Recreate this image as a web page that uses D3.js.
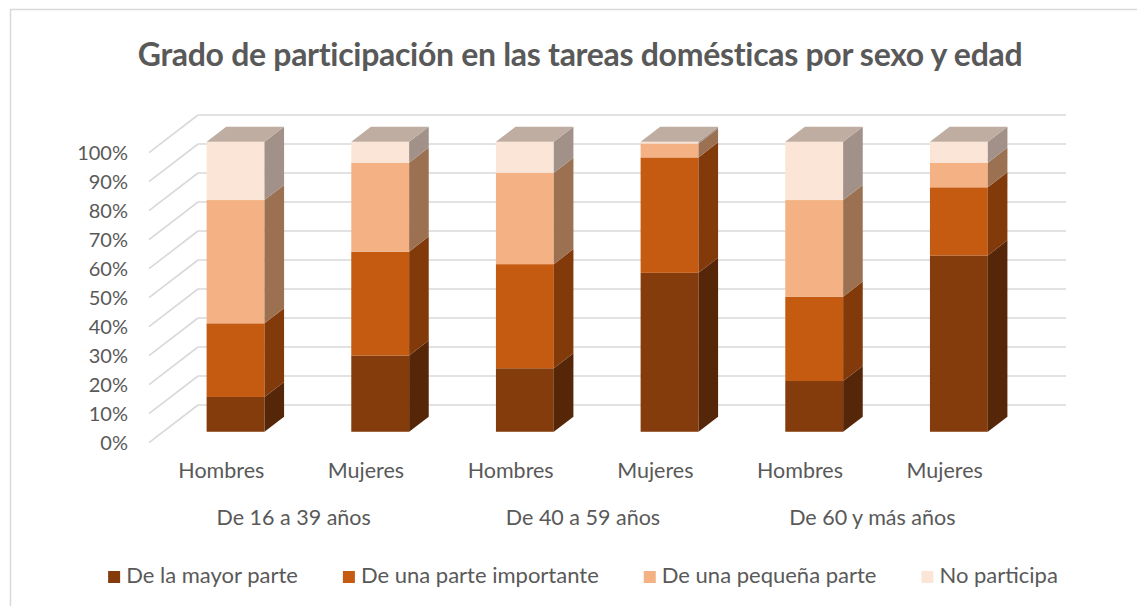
<!DOCTYPE html>
<html>
<head>
<meta charset="utf-8">
<script src="https://cdn.jsdelivr.net/npm/d3@7"></script>
<style>
  html, body { margin: 0; padding: 0; background: #fff; }
  svg { display: block; font-family: Lato, "Open Sans", sans-serif; }
</style>
</head>
<body>
<svg id="chart" width="1137" height="606"></svg>
<script>
// Participation in household chores, by sex and age group (percent of each group)
const groups = ["De 16 a 39 años", "De 40 a 59 años", "De 60 y más años"];
const sexes = ["Hombres", "Mujeres"];
const series = ["De la mayor parte", "De una parte importante", "De una pequeña parte", "No participa"];
const mayorParte     = [12.0, 26.3, 21.9, 54.8, 17.5, 60.8];
const parteImportante = [25.4, 35.8, 35.9, 39.8, 29.1, 23.5];
const pequenaParte   = [42.5, 30.7, 31.5, 4.8, 33.3, 8.5];
const noParticipa    = [20.1, 7.2, 10.7, 0.6, 20.1, 7.2];
const yTicks = [0, 10, 20, 30, 40, 50, 60, 70, 80, 90, 100];

const frontColors = ["#843C0C", "#C55A11", "#F4B183", "#FBE5D6"];
const sideColors  = ["#562608", "#823A0A", "#9C7151", "#A19189"];
const topColor = "#BFADA2";

const svg = d3.select("#chart");

// chart frame
svg.append("rect").attr("x", 10.5).attr("y", 9.5).attr("width", 1140).attr("height", 620)
  .attr("fill", "none").attr("stroke", "#d9d9d9").attr("stroke-width", 1.5);

// title
svg.append("text").attr("x", 580).attr("y", 66).attr("text-anchor", "middle")
  .attr("font-size", 32).attr("font-weight", 700).attr("fill", "#595959")
  .attr("letter-spacing", -0.3)
  .text("Grado de participación en las tareas domésticas por sexo y edad");

// categories: one per group/sex pair
const cats = [];
groups.forEach(g => sexes.forEach(s => cats.push({ group: g, sex: s })));
const stacks = cats.map((c, i) => [mayorParte[i], parteImportante[i], pequenaParte[i], noParticipa[i]]);

// front plane of the 3-D box, plus the depth vector towards the back wall
const x = d3.scaleBand().domain(d3.range(cats.length)).range([149, 1017])
  .paddingInner(0.6).paddingOuter(0.3);
const xc = d3.scaleBand().domain(d3.range(cats.length)).range([149, 1017]);
const y = d3.scaleLinear().domain([0, 100]).range([442.7, 152.7]);
const depth = { dx: 49, dy: -37.7 };
const f1 = 0.29, f2 = 0.69; // bar front / back positions inside the depth

const grid = svg.append("g").attr("stroke", "#d9d9d9").attr("stroke-width", 1.6).attr("fill", "none");
yTicks.forEach(v => {
  const y0 = y(v);
  grid.append("line").attr("x1", 149).attr("y1", y0)
    .attr("x2", 149 + depth.dx).attr("y2", y0 + depth.dy);
  grid.append("line").attr("x1", 149 + depth.dx).attr("y1", y0 + depth.dy)
    .attr("x2", 1017 + depth.dx).attr("y2", y0 + depth.dy);
});

// y-axis labels
svg.append("g").selectAll("text").data(yTicks).join("text")
  .attr("x", 128).attr("y", d => y(d) + 2)
  .attr("text-anchor", "end").attr("dominant-baseline", "middle")
  .attr("font-size", 20).attr("fill", "#595959")
  .text(d => d + "%");

// stacked 3-D columns
const bars = svg.append("g");
const pt = (px, py) => px + "," + py;
stacks.forEach((vals, i) => {
  const xl = x(i) + depth.dx * f1;
  const xr = xl + x.bandwidth();
  const oy = depth.dy * f1;
  const bx = depth.dx * (f2 - f1), by = depth.dy * (f2 - f1);
  const g = bars.append("g");
  let acc = 0;
  vals.forEach((v, k) => {
    const yb = y(acc) + oy, yt = y(acc + v) + oy;
    acc += v;
    g.append("rect").attr("x", xl).attr("y", yt).attr("width", xr - xl).attr("height", Math.max(0, yb - yt))
      .attr("fill", frontColors[k]);
    g.append("polygon")
      .attr("points", [pt(xr, yb), pt(xr + bx, yb + by), pt(xr + bx, yt + by), pt(xr, yt)].join(" "))
      .attr("fill", sideColors[k]);
  });
  const ytop = y(acc) + oy;
  g.append("polygon")
    .attr("points", [pt(xl, ytop), pt(xr, ytop), pt(xr + bx, ytop + by), pt(xl + bx, ytop + by)].join(" "))
    .attr("fill", topColor);
});

// category labels (sex, then age group)
svg.append("g").selectAll("text").data(cats).join("text")
  .attr("x", (d, i) => xc(i) + xc.bandwidth() / 2).attr("y", 473)
  .attr("text-anchor", "middle").attr("dominant-baseline", "middle")
  .attr("font-size", 21.5).attr("fill", "#595959")
  .text(d => d.sex);
svg.append("g").selectAll("text").data(groups).join("text")
  .attr("x", (d, gi) => xc(gi * 2) + xc.bandwidth())
  .attr("y", 520)
  .attr("text-anchor", "middle").attr("dominant-baseline", "middle")
  .attr("font-size", 21.5).attr("fill", "#595959")
  .text(d => d);

// legend
const legend = svg.append("g");
const itemGap = 45, sw = 12, textGap = 6;
const items = series.map((s, k) => {
  const it = legend.append("g");
  it.append("rect").attr("width", sw).attr("height", sw).attr("y", -sw / 2).attr("fill", frontColors[k]);
  const t = it.append("text").attr("x", sw + textGap).attr("dominant-baseline", "middle")
    .attr("font-size", 22).attr("fill", "#595959").text(s);
  return { it, w: sw + textGap + t.node().getComputedTextLength() };
});
const total = d3.sum(items, d => d.w) + itemGap * (items.length - 1);
let lx = 583 - total / 2;
items.forEach(d => { d.it.attr("transform", `translate(${lx},577)`); lx += d.w + itemGap; });
</script>
</body>
</html>
